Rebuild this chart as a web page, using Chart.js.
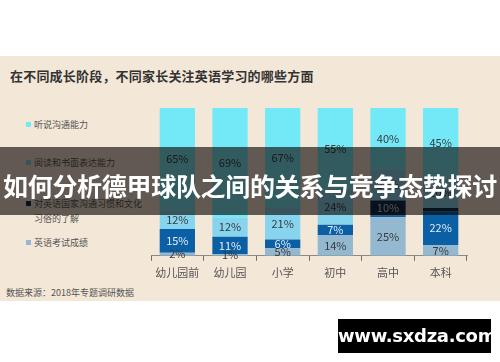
<!DOCTYPE html>
<html>
<head>
<meta charset="utf-8">
<script src="https://cdn.jsdelivr.net/npm/chart.js@4.4.1/dist/chart.umd.min.js"></script>
<style>
  html, body { margin: 0; padding: 0; background: #ffffff; }
  #wrap { position: relative; width: 500px; height: 362px; overflow: hidden; font-family: "Noto Sans CJK SC", "Noto Sans", sans-serif; }
  #panel { position: absolute; left: 0; top: 56px; width: 500px; height: 245px; background: #f3e7d7; }
  #title { position: absolute; left: 10px; top: 66px; font-size: 13px; font-weight: bold; color: #333; letter-spacing: 0.2px; }
  #chartBox { position: absolute; left: 0; top: 0; width: 500px; height: 362px; }
  .leg { position: absolute; left: 26px; font-size: 9px; color: #555; line-height: 15px; }
  .leg i { display: inline-block; width: 5px; height: 5px; margin-right: 3px; vertical-align: 1px; }
  #source { position: absolute; left: 6px; top: 286px; font-size: 9px; color: #555; }
  #banner { position: absolute; left: 0; top: 147px; width: 500px; height: 68px; background: rgba(8, 4, 0, 0.62); }
  #bannerText { position: absolute; left: 0; top: 168px; width: 500px; text-align: center; font-size: 25px; font-weight: bold; color: #fff; letter-spacing: -0.3px; line-height: 34px; }
  #mark { position: absolute; left: 338px; top: 319px; width: 153px; height: 34px; background: #000; color: #fff; font-family: "DejaVu Sans", sans-serif; font-weight: bold; font-size: 18px; text-align: center; line-height: 34px; letter-spacing: -0.3px; }
</style>
</head>
<body>
<div id="wrap">
  <div id="panel"></div>
  <div id="title">在不同成长阶段，不同家长关注英语学习的哪些方面</div>
  <div id="legend"></div>
  <div id="source">数据来源：2018年专题调研数据</div>
  <div id="chartBox"><canvas id="myChart"></canvas></div>
  <div id="banner"></div>
  <div id="bannerText">如何分析德甲球队之间的关系与竞争态势探讨</div>
  <div id="mark">www.sxdza.com</div>
</div>
<script>
const stages = ['幼儿园前', '幼儿园', '小学', '初中', '高中', '本科'];

// values in %, bottom of the stack first
const examScores = [2, 1, 5, 14, 25, 7];          // 英语考试成绩
const otherBlue = [15, 11, 6, 7, 1, 22];          // unnamed dark blue band
const culture = [0, 0, 0, 0, 10, 2];              // 对英语国家沟通习惯和文化习俗的了解
const reading = [12, 12, 21, 24, 20, 20];         // 阅读和书面表达能力
const listening = [65, 69, 67, 55, 40, 45];       // 听说沟通能力

const series = [
  { label: '英语考试成绩', values: examScores, color: '#93b8d0', text: '#3a3a3a', legend: true },
  { label: '其他', values: otherBlue, color: '#0b5fa5', text: '#e6eef6', legend: false },
  { label: '对英语国家沟通习惯和文化习俗的了解', values: culture, color: '#0a2b4f', text: '#c9ced4', legend: true },
  { label: '阅读和书面表达能力', values: reading, color: '#87d4ee', text: '#3a3a3a', legend: true },
  { label: '听说沟通能力', values: listening, color: '#73e9f8', text: '#3a3a3a', legend: true }
];

// bars are drawn as 100% stacks
const totals = stages.map((s, i) => series.reduce((sum, d) => sum + d.values[i], 0));

// legend on the left
const legendRows = [
  { s: series[4], top: 117, lines: ['听说沟通能力'] },
  { s: series[3], top: 155, lines: ['阅读和书面表达能力'] },
  { s: series[2], top: 196, lines: ['对英语国家沟通习惯和文化', '习俗的了解'] },
  { s: series[0], top: 235, lines: ['英语考试成绩'] }
];
const legendEl = document.getElementById('legend');
legendRows.forEach(r => {
  const div = document.createElement('div');
  div.className = 'leg';
  div.style.top = r.top + 'px';
  div.innerHTML = '<i style="background:' + r.s.color + '"></i>' + r.lines[0] +
    (r.lines[1] ? '<br><span style="padding-left:8px">' + r.lines[1] + '</span>' : '');
  legendEl.appendChild(div);
});

const segmentLabels = {
  id: 'segmentLabels',
  afterDatasetsDraw(chart) {
    const ctx = chart.ctx;
    ctx.save();
    ctx.font = '11px "Noto Sans CJK SC", "Noto Sans", sans-serif';
    ctx.textAlign = 'center';
    ctx.textBaseline = 'middle';
    chart.data.datasets.forEach((ds, di) => {
      const meta = chart.getDatasetMeta(di);
      meta.data.forEach((bar, i) => {
        const v = ds.raw[i];
        if (!v) return;
        if (di > 0 && v < 3) return;
        ctx.fillStyle = ds.textColor;
        ctx.fillText(v + '%', bar.x, (bar.y + bar.base) / 2);
      });
    });
    ctx.restore();
  }
};

new Chart(document.getElementById('myChart'), {
  type: 'bar',
  data: {
    labels: stages,
    datasets: series.map(s => ({
      label: s.label,
      data: s.values.map((v, i) => v / totals[i] * 100),
      raw: s.values,
      textColor: s.text,
      backgroundColor: s.color,
      borderWidth: 0,
      categoryPercentage: 1,
      barPercentage: 0.67
    }))
  },
  options: {
    responsive: true,
    maintainAspectRatio: false,
    animation: false,
    layout: { padding: { left: 151, right: 33, top: 108, bottom: 78 } },
    plugins: {
      legend: { display: false },
      tooltip: { enabled: false }
    },
    scales: {
      x: {
        stacked: true,
        grid: { display: true, drawOnChartArea: false, tickLength: 5, color: '#6f6f6f' },
        border: { display: true, color: '#8a8a8a', width: 1 },
        ticks: { color: '#555', font: { size: 11, family: '"Noto Sans CJK SC", sans-serif' }, padding: 5 }
      },
      y: {
        stacked: true,
        display: false,
        min: 0,
        max: 100
      }
    }
  },
  plugins: [segmentLabels]
});
</script>
</body>
</html>
